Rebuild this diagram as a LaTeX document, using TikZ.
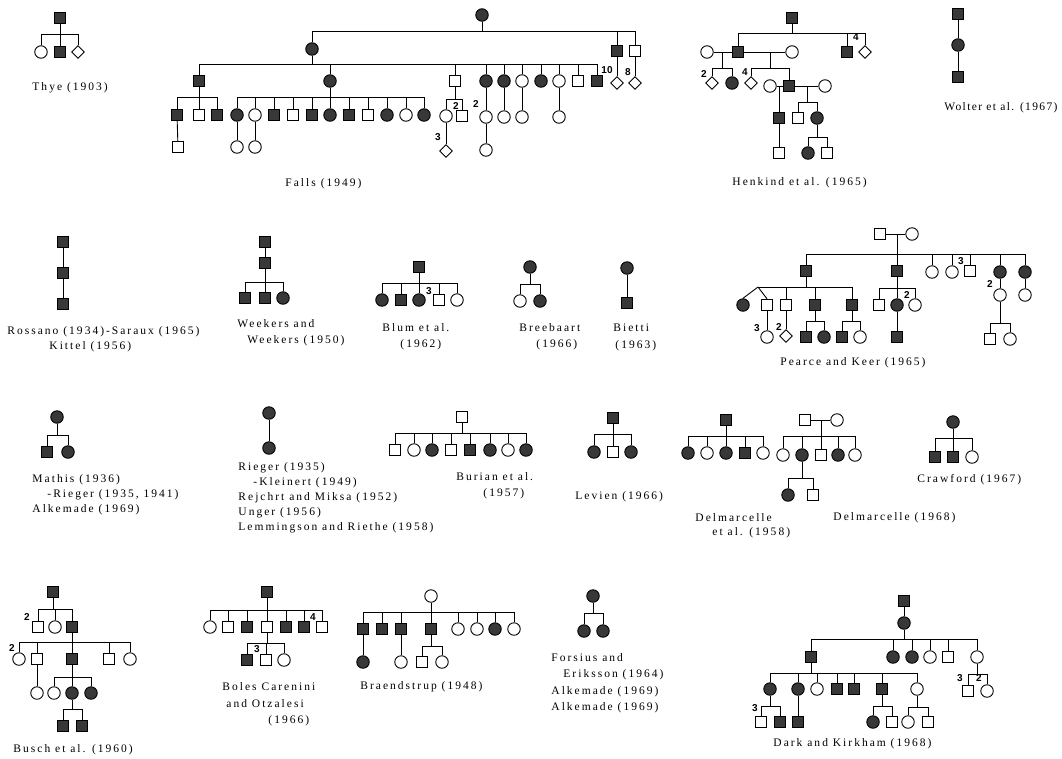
\documentclass[tikz,border=0pt]{standalone}
\usepackage{fontspec}
\usetikzlibrary{shapes.geometric}
\newfontfamily\lblfam[LetterSpace=17.5]{Liberation Serif}
\newfontfamily\lblfamtight[LetterSpace=12]{Liberation Serif}
\newfontfamily\numfam{Liberation Sans}
\newcommand\sibship[3]{\draw (#1) -- (#2); \foreach \k in {#3}{\draw (\k.north) |- (#2);}}
\newcommand\pedlbl[4]{\node[lb] (#1) at (#2,#3) {#4};}
\tikzset{
 sq/.style={rectangle,draw,minimum size=11.5pt,inner sep=0pt},
 ci/.style={circle,draw,minimum size=12.5pt,inner sep=0pt},
 dm/.style={diamond,draw,minimum size=13pt,inner sep=0pt},
 af/.style={fill=black!78},
 lb/.style={anchor=west,inner sep=0pt,font=\lblfam\fontsize{11.5}{13}\selectfont},
 num/.style={inner sep=0pt,font=\numfam\bfseries\fontsize{10}{11}\selectfont},
}
\begin{document}
\begin{tikzpicture}[x=1pt,y=-1pt,line width=0.9pt]
\useasboundingbox[fill=white] (0,0) rectangle (1062,758);
% ---------------- Thye
\node[sq,af] (t0) at (60,18) {};
\node[ci] (t1) at (41,52) {};
\node[sq,af] (t2) at (60,52) {};
\node[dm] (t3) at (78,52) {};
\coordinate (tb) at (60,34);
\sibship{t0.south}{tb}{t1,t2,t3}
\pedlbl{tl}{32}{88}{Thye (1903)}
% ---------------- Falls
\node[ci,af] (f0) at (482,15) {};
\coordinate (fb0) at (482,31);
\node[ci,af] (f1) at (312,49) {};
\node[sq,af] (f2) at (617,51) {};
\node[sq] (f3) at (635,51) {};
\sibship{f0.south}{fb0}{f1,f2,f3}
\node[dm] (f4) at (617,83) {};
\node[dm] (f5) at (635,83) {};
\draw (f2) -- (f4); \draw (f3) -- (f5);
\node[num] (n10) at (607,70) {10};
\node[num] (n8) at (628,72) {8};
\coordinate (fb1) at (312,64);
\node[sq,af] (g1) at (199,81) {};
\node[ci,af] (g2) at (330,81) {};
\node[sq] (g3) at (455,81) {};
\node[ci,af] (g4) at (486,81) {};
\node[ci,af] (g5) at (504,81) {};
\node[ci] (g6) at (522,81) {};
\node[ci,af] (g7) at (541,81) {};
\node[ci] (g8) at (559,81) {};
\node[sq] (g9) at (578,81) {};
\node[sq,af] (g10) at (597,81) {};
\sibship{f1.south}{fb1}{g1,g2,g3,g4,g5,g6,g7,g8,g9,g10}
\coordinate (fb2) at (199,97);
\node[sq,af] (h1) at (177,115) {};
\node[sq] (h2) at (199,115) {};
\node[sq,af] (h3) at (217,115) {};
\sibship{g1.south}{fb2}{h1,h2,h3}
\node[sq] (h4) at (178,147) {};
\draw (h1) -- (h4);
\coordinate (fb3) at (330,97);
\node[ci,af] (i1) at (237,115) {};
\node[ci] (i2) at (255,115) {};
\node[sq,af] (i3) at (274,115) {};
\node[sq] (i4) at (293,115) {};
\node[sq,af] (i5) at (312,115) {};
\node[ci,af] (i6) at (330,115) {};
\node[sq,af] (i7) at (349,115) {};
\node[sq] (i8) at (368,115) {};
\node[ci,af] (i9) at (387,115) {};
\node[ci] (i10) at (406,115) {};
\node[ci,af] (i11) at (424,115) {};
\sibship{g2.south}{fb3}{i1,i2,i3,i4,i5,i6,i7,i8,i9,i10,i11}
\node[ci] (i12) at (237,147) {};
\node[ci] (i13) at (255,147) {};
\draw (i1) -- (i12); \draw (i2) -- (i13);
\coordinate (fb4) at (455,99);
\node[ci] (j1) at (446,116) {};
\node[sq] (j2) at (462,116) {};
\sibship{g3.south}{fb4}{j1,j2}
\node[num] (n2a) at (456,106) {2};
\node[dm] (j3) at (446,151) {};
\draw (j1) -- (j3);
\node[num] (n3a) at (438,137) {3};
\node[ci] (k1) at (486,117) {};
\node[ci] (k2) at (486,150) {};
\draw (g4) -- (k1); \draw (k1) -- (k2);
\node[num] (n2b) at (476,104) {2};
\node[ci] (k3) at (504,117) {};
\node[ci] (k4) at (522,117) {};
\node[ci] (k5) at (559,117) {};
\draw (g5) -- (k3); \draw (g6) -- (k4); \draw (g8) -- (k5);
\pedlbl{fl}{285}{184}{Falls (1949)}
% ---------------- Henkind
\node[sq,af] (hk0) at (792,18) {};
\coordinate (hkb0) at (792,33);
\node[sq,af] (hk1) at (738,52) {};
\node[sq,af] (hk2) at (847,52) {};
\node[dm] (hk3) at (865,52) {};
\sibship{hk0.south}{hkb0}{hk1,hk2,hk3}
\node[num] (n4a) at (856,37) {4};
\node[ci] (hkw1) at (707,52) {};
\node[ci] (hkw2) at (792,52) {};
\draw (hkw1) -- (hk1); \draw (hk1) -- (hkw2);
\coordinate (hkm1) at (722,52);
\coordinate (hkb1) at (722,68);
\node[dm] (hk4) at (712,83) {};
\node[ci,af] (hk5) at (732,83) {};
\sibship{hkm1}{hkb1}{hk4,hk5}
\node[num] (n2c) at (704,74) {2};
\coordinate (hkm2) at (770,52);
\coordinate (hkb2) at (770,68);
\node[dm] (hk6) at (751,83) {};
\node[sq,af] (hk7) at (789,86) {};
\sibship{hkm2}{hkb2}{hk6,hk7}
\node[num] (n4b) at (745,72) {4};
\node[ci] (hkw3) at (770,86) {};
\node[ci] (hkw4) at (825,86) {};
\draw (hkw3) -- (hk7); \draw (hk7) -- (hkw4);
\coordinate (hkm3) at (779,86);
\node[sq,af] (hk8) at (779,118) {};
\node[sq] (hk9) at (779,153) {};
\draw (hkm3) -- (hk8); \draw (hk8) -- (hk9);
\coordinate (hkm4) at (807,86);
\coordinate (hkb4) at (807,102);
\node[sq] (hk10) at (798,118) {};
\node[ci,af] (hk11) at (817,118) {};
\sibship{hkm4}{hkb4}{hk10,hk11}
\coordinate (hkb5) at (817,137);
\node[ci,af] (hk12) at (808,153) {};
\node[sq] (hk13) at (827,153) {};
\sibship{hk11.south}{hkb5}{hk12,hk13}
\pedlbl{hkl}{732}{183}{Henkind et al. (1965)}
% ---------------- Wolter
\node[sq,af] (w1) at (958,14) {};
\node[ci,af] (w2) at (958,45) {};
\node[sq,af] (w3) at (958,77) {};
\draw (w1) -- (w2); \draw (w2) -- (w3);
\node[lb,anchor=east,font=\lblfamtight\fontsize{11.5}{13}\selectfont] (wl) at (1058,108) {Wolter et al. (1967)};
% ---------------- Rossano
\node[sq,af] (r1) at (63,242) {};
\node[sq,af] (r2) at (63,273) {};
\node[sq,af] (r3) at (63,304) {};
\draw (r1) -- (r2); \draw (r2) -- (r3);
\pedlbl{rl1}{7}{332}{Rossano (1934)-Saraux (1965)}
\pedlbl{rl2}{49}{347}{Kittel (1956)}
% ---------------- Weekers
\node[sq,af] (we1) at (265,242) {};
\node[sq,af] (we2) at (265,263) {};
\draw (we1) -- (we2);
\coordinate (web) at (265,282);
\node[sq,af] (we3) at (245,298) {};
\node[sq,af] (we4) at (265,298) {};
\node[ci,af] (we5) at (283,298) {};
\sibship{we2.south}{web}{we3,we4,we5}
\pedlbl{wel1}{237}{324}{Weekers and}
\pedlbl{wel2}{247}{341}{Weekers (1950)}
% ---------------- Blum
\node[sq,af] (bl0) at (419,267) {};
\coordinate (blb) at (419,283);
\node[ci,af] (bl1) at (382,300) {};
\node[sq,af] (bl2) at (401,300) {};
\node[ci,af] (bl3) at (419,300) {};
\node[sq] (bl4) at (439,300) {};
\node[ci] (bl5) at (457,300) {};
\sibship{bl0.south}{blb}{bl1,bl2,bl3,bl4,bl5}
\node[num] (n3b) at (429,291) {3};
\pedlbl{bll1}{382}{328}{Blum et al.}
\pedlbl{bll2}{400}{345}{(1962)}
% ---------------- Breebaart
\node[ci,af] (bb0) at (530,267) {};
\coordinate (bbb) at (530,284);
\node[ci] (bb1) at (520,301) {};
\node[ci,af] (bb2) at (540,301) {};
\sibship{bb0.south}{bbb}{bb1,bb2}
\pedlbl{bbl1}{519}{328}{Breebaart}
\pedlbl{bbl2}{536}{345}{(1966)}
% ---------------- Bietti
\node[ci,af] (bi1) at (627,268) {};
\node[sq,af] (bi2) at (627,303) {};
\draw (bi1) -- (bi2);
\pedlbl{bil1}{613}{328}{Bietti}
\pedlbl{bil2}{615}{346}{(1963)}
% ---------------- Pearce and Keer
\node[sq] (pk0) at (880,234) {};
\node[ci] (pk1) at (912,234) {};
\draw (pk0) -- (pk1);
\coordinate (pkm) at (897,234);
\coordinate (pkb) at (897,254);
\node[sq,af] (pa1) at (806,271) {};
\node[sq,af] (pa2) at (897,271) {};
\node[ci] (pa3) at (932,272) {};
\node[ci] (pa4) at (952,272) {};
\node[sq] (pa5) at (970,271) {};
\node[ci,af] (pa6) at (1000,272) {};
\node[ci,af] (pa7) at (1025,272) {};
\sibship{pkm}{pkb}{pa1,pa2,pa3,pa4,pa5,pa6,pa7}
\node[num] (n3c) at (961,261) {3};
\coordinate (pkb1) at (806,287);
\coordinate (pktw) at (758,287);
\node[ci,af] (tw1) at (743,305) {};
\node[sq] (tw2) at (767,305) {};
\node[sq] (pb3) at (786,305) {};
\node[sq,af] (pb4) at (815,305) {};
\node[sq,af] (pb5) at (852,305) {};
\sibship{pa1.south}{pkb1}{pb3,pb4,pb5}
\draw (pktw) -- (pkb1);
\draw (pktw) -- (tw1.north); \draw (pktw) -- (tw2.north);
\node[ci] (pb6) at (767,337) {};
\draw (tw2) -- (pb6);
\node[num] (n3d) at (757,328) {3};
\node[dm] (pb7) at (786,336) {};
\draw (pb3) -- (pb7);
\node[num] (n2d) at (779,327) {2};
\coordinate (pkb2) at (815,321);
\node[sq,af] (pb8) at (806,337) {};
\node[ci,af] (pb9) at (824,337) {};
\sibship{pb4.south}{pkb2}{pb8,pb9}
\coordinate (pkb3) at (852,321);
\node[sq,af] (pb10) at (842,337) {};
\node[ci] (pb11) at (860,337) {};
\sibship{pb5.south}{pkb3}{pb10,pb11}
\coordinate (pkb4) at (897,288);
\node[sq] (pc1) at (879,305) {};
\node[ci,af] (pc2) at (897,305) {};
\node[ci] (pc3) at (915,305) {};
\sibship{pa2.south}{pkb4}{pc1,pc2,pc3}
\node[num] (n2e) at (907,295) {2};
\node[sq,af] (pc4) at (897,337) {};
\draw (pc2) -- (pc4);
\node[ci] (pd1) at (1000,295) {};
\draw (pa6) -- (pd1);
\node[num] (n2f) at (990,284) {2};
\coordinate (pkb5) at (1000,323);
\node[sq] (pd2) at (990,339) {};
\node[ci] (pd3) at (1010,339) {};
\sibship{pd1.south}{pkb5}{pd2,pd3}
\node[ci] (pd4) at (1025,295) {};
\draw (pa7) -- (pd4);
\pedlbl{pkl}{780}{363}{Pearce and Keer (1965)}
% ---------------- Mathis
\node[ci,af] (ma0) at (57,417) {};
\coordinate (mab) at (57,435);
\node[sq,af] (ma1) at (47,452) {};
\node[ci,af] (ma2) at (68,452) {};
\sibship{ma0.south}{mab}{ma1,ma2}
\pedlbl{mal1}{32}{480}{Mathis (1936)}
\pedlbl{mal2}{47}{495}{-Rieger (1935, 1941)}
\pedlbl{mal3}{32}{510}{Alkemade (1969)}
% ---------------- Rieger
\node[ci,af] (ri1) at (269,413) {};
\node[ci,af] (ri2) at (269,448) {};
\draw (ri1) -- (ri2);
\pedlbl{ril1}{238}{468}{Rieger (1935)}
\pedlbl{ril2}{253}{483}{-Kleinert (1949)}
\pedlbl{ril3}{238}{498}{Rejchrt and Miksa (1952)}
\pedlbl{ril4}{238}{513}{Unger (1956)}
\pedlbl{ril5}{238}{528}{Lemmingson and Riethe (1958)}
% ---------------- Burian
\node[sq] (bu0) at (462,417) {};
\coordinate (bub) at (462,433);
\node[sq] (bu1) at (395,450) {};
\node[ci] (bu2) at (414,450) {};
\node[ci,af] (bu3) at (432,450) {};
\node[sq] (bu4) at (451,450) {};
\node[sq,af] (bu5) at (470,450) {};
\node[ci,af] (bu6) at (490,450) {};
\node[ci] (bu7) at (508,450) {};
\node[ci,af] (bu8) at (526,450) {};
\sibship{bu0.south}{bub}{bu1,bu2,bu3,bu4,bu5,bu6,bu7,bu8}
\pedlbl{bul1}{456}{477}{Burian et al.}
\pedlbl{bul2}{483}{494}{(1957)}
% ---------------- Levien
\node[sq,af] (lv0) at (613,418) {};
\coordinate (lvb) at (613,434);
\node[ci,af] (lv1) at (594,452) {};
\node[sq] (lv2) at (613,452) {};
\node[ci,af] (lv3) at (631,452) {};
\sibship{lv0.south}{lvb}{lv1,lv2,lv3}
\pedlbl{lvl}{575}{497}{Levien (1966)}
% ---------------- Delmarcelle et al. (1958)
\node[sq,af] (de0) at (726,420) {};
\coordinate (deb) at (726,436);
\node[ci,af] (de1) at (688,453) {};
\node[ci] (de2) at (707,453) {};
\node[ci,af] (de3) at (726,453) {};
\node[sq,af] (de4) at (745,453) {};
\node[ci] (de5) at (763,453) {};
\sibship{de0.south}{deb}{de1,de2,de3,de4,de5}
\pedlbl{del1}{695}{518}{Delmarcelle}
\pedlbl{del2}{712}{533}{et al. (1958)}
% ---------------- Delmarcelle (1968)
\node[sq] (dd0) at (805,420) {};
\node[ci] (dd1) at (837,420) {};
\draw (dd0) -- (dd1);
\coordinate (ddm) at (821,420);
\coordinate (ddb) at (821,436);
\node[ci] (dd2) at (783,455) {};
\node[ci,af] (dd3) at (802,455) {};
\node[sq] (dd4) at (821,455) {};
\node[ci,af] (dd5) at (838,455) {};
\node[ci] (dd6) at (855,455) {};
\sibship{ddm}{ddb}{dd2,dd3,dd4,dd5,dd6}
\coordinate (ddb2) at (802,478);
\node[ci,af] (dd7) at (788,495) {};
\node[sq] (dd8) at (813,495) {};
\sibship{dd3.south}{ddb2}{dd7,dd8}
\pedlbl{ddl}{833}{518}{Delmarcelle (1968)}
% ---------------- Crawford
\node[ci,af] (cr0) at (953,422) {};
\coordinate (crb) at (953,438);
\node[sq,af] (cr1) at (935,457) {};
\node[sq,af] (cr2) at (953,457) {};
\node[ci] (cr3) at (972,457) {};
\sibship{cr0.south}{crb}{cr1,cr2,cr3}
\pedlbl{crl}{917}{480}{Crawford (1967)}
% ---------------- Busch
\node[sq,af] (bs0) at (53,592) {};
\coordinate (bsb0) at (53,609);
\node[sq] (bs1) at (38,627) {};
\node[ci] (bs2) at (55,627) {};
\node[sq,af] (bs3) at (72,627) {};
\sibship{bs0.south}{bsb0}{bs1,bs2,bs3}
\node[num] (n2g) at (27,617) {2};
\coordinate (bsb1) at (72,642);
\node[ci] (bs4) at (19,659) {};
\node[sq] (bs5) at (37,659) {};
\node[sq,af] (bs6) at (72,659) {};
\node[sq] (bs7) at (109,659) {};
\node[ci] (bs8) at (130,659) {};
\sibship{bs3.south}{bsb1}{bs4,bs5,bs6,bs7,bs8}
\node[num] (n2h) at (12,648) {2};
\node[ci] (bs9) at (37,693) {};
\draw (bs5) -- (bs9);
\coordinate (bsb2) at (72,677);
\node[ci] (bs10) at (54,693) {};
\node[ci,af] (bs11) at (72,693) {};
\node[ci,af] (bs12) at (91,693) {};
\sibship{bs6.south}{bsb2}{bs10,bs11,bs12}
\coordinate (bsb3) at (72,709);
\node[sq,af] (bs13) at (63,726) {};
\node[sq,af] (bs14) at (82,726) {};
\sibship{bs11.south}{bsb3}{bs13,bs14}
\pedlbl{bsl}{13}{750}{Busch et al. (1960)}
% ---------------- Boles Carenini
\node[sq,af] (bo0) at (267,592) {};
\coordinate (bob0) at (267,610);
\node[ci] (bo1) at (210,627) {};
\node[sq] (bo2) at (228,627) {};
\node[sq,af] (bo3) at (247,627) {};
\node[sq] (bo4) at (267,627) {};
\node[sq,af] (bo5) at (286,627) {};
\node[sq,af] (bo6) at (304,627) {};
\node[sq] (bo7) at (322,627) {};
\sibship{bo0.south}{bob0}{bo1,bo2,bo3,bo4,bo5,bo6,bo7}
\node[num] (n4c) at (313,617) {4};
\coordinate (bob1) at (267,643);
\node[sq,af] (bo8) at (247,660) {};
\node[sq] (bo9) at (266,660) {};
\node[ci] (bo10) at (284,660) {};
\sibship{bo4.south}{bob1}{bo8,bo9,bo10}
\node[num] (n3e) at (257,649) {3};
\pedlbl{bol1}{222}{687}{Boles Carenini}
\pedlbl{bol2}{226}{704}{and Otzalesi}
\pedlbl{bol3}{268}{721}{(1966)}
% ---------------- Braendstrup
\node[ci] (br0) at (431,596) {};
\coordinate (brb0) at (431,612);
\node[sq,af] (br1) at (363,629) {};
\node[sq,af] (br2) at (382,629) {};
\node[sq,af] (br3) at (401,629) {};
\node[sq,af] (br4) at (431,629) {};
\node[ci] (br5) at (458,629) {};
\node[ci] (br6) at (477,629) {};
\node[ci,af] (br7) at (495,629) {};
\node[ci] (br8) at (514,629) {};
\sibship{br0.south}{brb0}{br1,br2,br3,br4,br5,br6,br7,br8}
\node[ci,af] (br9) at (363,662) {};
\node[ci] (br10) at (401,662) {};
\draw (br1) -- (br9); \draw (br3) -- (br10);
\coordinate (brb1) at (431,646);
\node[sq] (br11) at (422,662) {};
\node[ci] (br12) at (442,662) {};
\sibship{br4.south}{brb1}{br11,br12}
\pedlbl{brl}{360}{687}{Braendstrup (1948)}
% ---------------- Forsius
\node[ci,af] (fo0) at (593,596) {};
\coordinate (fob) at (593,613);
\node[ci,af] (fo1) at (584,631) {};
\node[ci,af] (fo2) at (603,631) {};
\sibship{fo0.south}{fob}{fo1,fo2}
\pedlbl{fol1}{551}{658}{Forsius and}
\pedlbl{fol2}{563}{675}{Eriksson (1964)}
\pedlbl{fol3}{551}{692}{Alkemade (1969)}
\pedlbl{fol4}{551}{708}{Alkemade (1969)}
% ---------------- Dark and Kirkham
\node[sq,af] (dk0) at (904,601) {};
\node[ci,af] (dk1) at (904,623) {};
\draw (dk0) -- (dk1);
\coordinate (dkb0) at (904,639);
\node[sq,af] (dk2) at (811,657) {};
\node[ci,af] (dk3) at (893,657) {};
\node[ci,af] (dk4) at (912,657) {};
\node[ci] (dk5) at (930,657) {};
\node[sq] (dk6) at (948,657) {};
\node[ci] (dk7) at (977,657) {};
\sibship{dk1.south}{dkb0}{dk2,dk3,dk4,dk5,dk6,dk7}
\coordinate (dkb1) at (811,673);
\node[ci,af] (dl1) at (770,689) {};
\node[ci,af] (dl2) at (798,689) {};
\node[ci] (dl3) at (817,689) {};
\node[sq,af] (dl4) at (837,689) {};
\node[sq,af] (dl5) at (854,689) {};
\node[sq,af] (dl6) at (882,689) {};
\node[ci] (dl7) at (917,689) {};
\sibship{dk2.south}{dkb1}{dl1,dl2,dl3,dl4,dl5,dl6,dl7}
\coordinate (dkb2) at (770,706);
\node[sq] (dm1) at (761,722) {};
\node[sq,af] (dm2) at (780,722) {};
\sibship{dl1.south}{dkb2}{dm1,dm2}
\node[num] (n3f) at (755,708) {3};
\node[sq,af] (dm3) at (798,722) {};
\draw (dl2) -- (dm3);
\coordinate (dkb3) at (882,706);
\node[ci,af] (dm4) at (873,722) {};
\node[sq] (dm5) at (892,722) {};
\sibship{dl6.south}{dkb3}{dm4,dm5}
\coordinate (dkb4) at (917,707);
\node[ci] (dm6) at (908,722) {};
\node[sq] (dm7) at (928,722) {};
\sibship{dl7.south}{dkb4}{dm6,dm7}
\coordinate (dkb5) at (977,674);
\node[sq] (dn1) at (968,691) {};
\node[ci] (dn2) at (987,691) {};
\sibship{dk7.south}{dkb5}{dn1,dn2}
\node[num] (n3g) at (960,678) {3};
\node[num] (n2i) at (979,678) {2};
\pedlbl{dkl}{773}{744}{Dark and Kirkham (1968)}
\end{tikzpicture}
\end{document}
